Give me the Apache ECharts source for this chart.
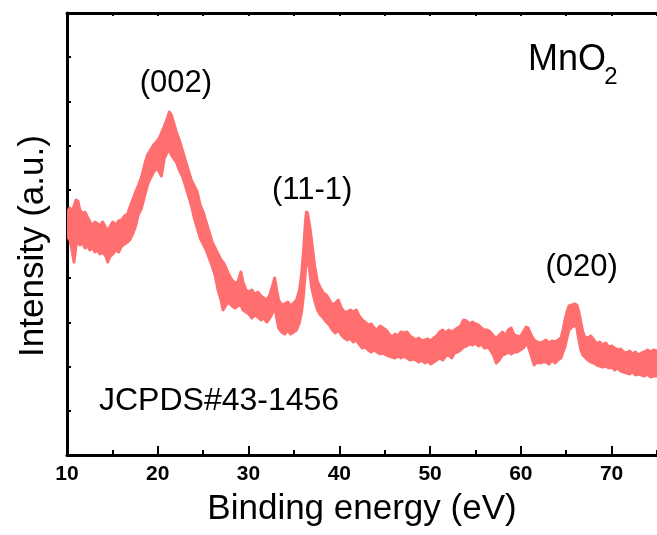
<!DOCTYPE html>
<html>
<head>
<meta charset="utf-8">
<script src="https://cdn.jsdelivr.net/npm/echarts@6/dist/echarts.min.js"></script>
<style>
  html, body { margin: 0; padding: 0; background: #fff; }
  #chart { width: 657px; height: 535px; }
</style>
</head>
<body>
<div id="chart"></div>
<script>
// Binding energy (eV) sample points
const energy = [10.00,10.33,10.55,10.77,10.99,11.20,11.42,11.75,11.97,12.30,12.52,12.85,13.07,13.39,13.61,13.94,14.27,14.49,14.71,15.04,15.37,15.69,16.02,16.35,16.68,16.90,17.23,17.56,17.88,18.21,18.54,18.87,19.20,19.53,19.85,20.18,20.40,20.73,21.06,21.28,21.50,21.72,22.05,22.37,22.70,23.03,23.36,23.69,24.02,24.35,24.67,25.00,25.33,25.66,25.99,26.31,26.64,26.97,27.19,27.52,27.85,28.18,28.51,28.83,29.16,29.38,29.71,30.04,30.37,30.70,31.02,31.35,31.68,32.01,32.34,32.67,32.88,33.10,33.32,33.65,33.98,34.31,34.64,34.97,35.29,35.62,35.84,36.06,36.28,36.39,36.50,36.72,36.94,37.27,37.60,37.92,38.25,38.58,38.91,39.24,39.57,39.89,40.22,40.55,40.88,41.21,41.54,41.86,42.19,42.52,42.85,43.18,43.51,43.84,44.16,44.49,44.82,45.15,45.48,45.81,46.13,46.46,46.79,47.12,47.45,47.78,48.11,48.43,48.76,49.09,49.42,49.75,50.08,50.40,50.73,51.06,51.39,51.72,52.05,52.38,52.70,53.03,53.36,53.69,54.02,54.35,54.67,55.00,55.33,55.66,55.99,56.32,56.64,56.97,57.30,57.63,57.96,58.29,58.62,58.94,59.27,59.60,59.93,60.26,60.59,60.81,61.13,61.46,61.79,62.12,62.45,62.78,63.10,63.43,63.76,64.09,64.42,64.64,64.86,65.08,65.30,65.63,65.96,66.17,66.39,66.61,66.83,67.05,67.38,67.71,68.04,68.36,68.69,69.02,69.35,69.68,70.01,70.33,70.66,70.99,71.32,71.65,71.98,72.31,72.63,72.96,73.29,73.62,73.95,74.28,74.61,75.00];

// Upper edge of the noisy intensity trace (a.u.)
const intensityHigh = [243,247,241,249,255,254,245,241,243,237,233,229,233,231,229,233,227,225,228,233,230,234,235,239,241,247,255,263,270,278,290,300,305,310,313,317,322,329,337,343,340,333,323,315,305,295,285,275,269,263,250,243,233,223,213,207,201,195,193,187,180,175,172,173,183,173,165,163,165,160,163,159,157,155,160,170,177,165,155,150,151,153,149,152,155,165,180,205,235,243,242,230,215,190,173,167,162,160,155,150,152,155,147,143,143,145,143,145,139,135,133,130,131,127,125,129,127,125,121,118,121,119,123,122,123,119,117,115,117,114,115,116,114,117,119,123,125,122,125,123,125,127,129,135,134,131,133,131,130,127,125,125,123,119,117,120,123,119,125,127,120,119,118,123,128,127,120,115,113,112,113,115,112,114,113,115,117,125,135,143,149,150,151,150,143,133,123,118,117,119,115,111,113,110,112,108,109,107,105,106,103,102,104,101,103,100,102,103,105,103,105,104];

// Lower edge of the noisy intensity trace (a.u.)
const intensityLow = [219,215,205,193,209,215,210,212,207,209,205,207,203,205,201,203,199,193,198,201,205,203,209,211,213,215,221,229,241,247,259,270,277,283,287,283,279,297,303,305,300,297,293,285,279,270,260,250,237,227,217,211,205,197,189,180,165,155,145,150,153,149,147,149,150,145,143,141,137,140,138,135,137,133,137,143,150,137,127,123,121,125,121,123,125,133,143,160,185,197,200,185,168,155,145,140,137,133,130,125,122,125,120,117,115,117,113,115,111,107,108,105,103,105,103,101,102,100,99,98,97,99,97,99,97,95,96,95,93,95,92,94,91,93,95,97,95,99,100,97,102,103,105,108,109,111,110,112,109,111,107,108,105,100,92,95,100,101,103,101,103,103,105,107,111,109,100,90,93,92,93,93,91,95,92,95,97,103,108,117,125,128,130,127,115,105,100,98,95,93,92,90,89,88,89,87,88,85,87,84,83,82,81,83,80,81,80,79,81,78,79,79];

// Axis ranges and tick steps
const energyRange = [10, 75];
const energyStep = 10;
const energyMinorStep = 5;
const intensityRange = [0, 442];
const intensityStep = 44.2;

// Reflection labels: [text, energy, intensity]
const reflections = [
  ['(002)', 22.0, 372],
  ['(11-1)', 37.0, 265],
  ['(020)', 66.7, 188]
];

const traceColor = '#FF6F6F';
const font = '"Liberation Sans", Arial, Helvetica, sans-serif';

const chart = echarts.init(document.getElementById('chart'), null, { renderer: 'canvas' });

const axisLine = { show: true, lineStyle: { color: '#000', width: 3 } };

// The noisy trace is drawn as a filled band between its lower and upper edges.
function renderBand(params, api) {
  const pts = [];
  for (let i = 0; i < energy.length; i++) pts.push(api.coord([energy[i], intensityHigh[i]]));
  for (let i = energy.length - 1; i >= 0; i--) pts.push(api.coord([energy[i], intensityLow[i]]));
  const cs = params.coordSys;
  return {
    type: 'group',
    children: [{
      type: 'polygon',
      shape: { points: pts },
      style: { fill: traceColor, stroke: traceColor, lineWidth: 3, lineJoin: 'round' }
    }],
    clipPath: { type: 'rect', shape: { x: cs.x, y: cs.y, width: cs.width, height: cs.height } }
  };
}

chart.setOption({
  animation: false,
  backgroundColor: '#fff',
  grid: { left: 67, top: 13, width: 594, height: 442, containLabel: false },
  xAxis: [
    {
      type: 'value', position: 'bottom',
      min: energyRange[0], max: energyRange[1], interval: energyStep,
      axisLine: axisLine,
      axisTick: { show: true, inside: true, length: 9, lineStyle: { color: '#000', width: 2 } },
      axisLabel: {
        show: true, margin: 9, color: '#000', fontFamily: font, fontWeight: 'bold', fontSize: 21,
        showMaxLabel: false
      },
      splitLine: { show: false },
      name: 'Binding energy (eV)', nameLocation: 'middle', nameGap: 37,
      nameTextStyle: { color: '#000', fontFamily: font, fontSize: 35 }
    },
    {
      type: 'value', position: 'bottom',
      min: energyRange[0], max: energyRange[1], interval: energyMinorStep,
      axisLine: { show: false },
      axisTick: { show: true, inside: true, length: 5, lineStyle: { color: '#000', width: 2 } },
      axisLabel: { show: false },
      splitLine: { show: false }
    },
    {
      type: 'value', position: 'top',
      min: energyRange[0], max: energyRange[1], interval: energyMinorStep,
      axisLine: axisLine,
      axisTick: { show: true, inside: true, length: 3, lineStyle: { color: '#000', width: 2 } },
      axisLabel: { show: false },
      splitLine: { show: false }
    }
  ],
  yAxis: {
    type: 'value',
    min: intensityRange[0], max: intensityRange[1], interval: intensityStep,
    axisLine: axisLine,
    axisTick: { show: true, inside: true, length: 4, lineStyle: { color: '#000', width: 2 } },
    axisLabel: { show: false },
    splitLine: { show: false }
  },
  series: [
    {
      name: 'MnO2', type: 'custom', renderItem: renderBand,
      data: [[energy[0], intensityLow[0]]], z: 1, silent: true
    }
  ],
  graphic: [
    {
      type: 'text', x: 33, y: 246, rotation: Math.PI / 2,
      style: { text: 'Intensity (a.u.)', fill: '#000', font: '35px ' + font, align: 'center', verticalAlign: 'middle' }
    },
    {
      type: 'text', x: 528, y: 60,
      style: { text: 'MnO', fill: '#000', font: '36px ' + font, align: 'left', verticalAlign: 'middle' }
    },
    {
      type: 'text', x: 611, y: 77,
      style: { text: '2', fill: '#000', font: '24px ' + font, align: 'center', verticalAlign: 'middle' }
    },
    {
      type: 'text', x: 99, y: 401,
      style: { text: 'JCPDS#43-1456', fill: '#000', font: '32px ' + font, align: 'left', verticalAlign: 'middle' }
    }
  ]
});

// Reflection labels placed at their data positions
chart.setOption({
  graphic: reflections.map((r, i) => {
    const p = chart.convertToPixel({ gridIndex: 0 }, [r[1], r[2]]);
    return {
      id: 'hkl' + i, type: 'text', x: p[0], y: p[1],
      style: { text: r[0], fill: '#000', font: '31px ' + font, align: 'center', verticalAlign: 'middle' }
    };
  })
});
</script>
</body>
</html>
